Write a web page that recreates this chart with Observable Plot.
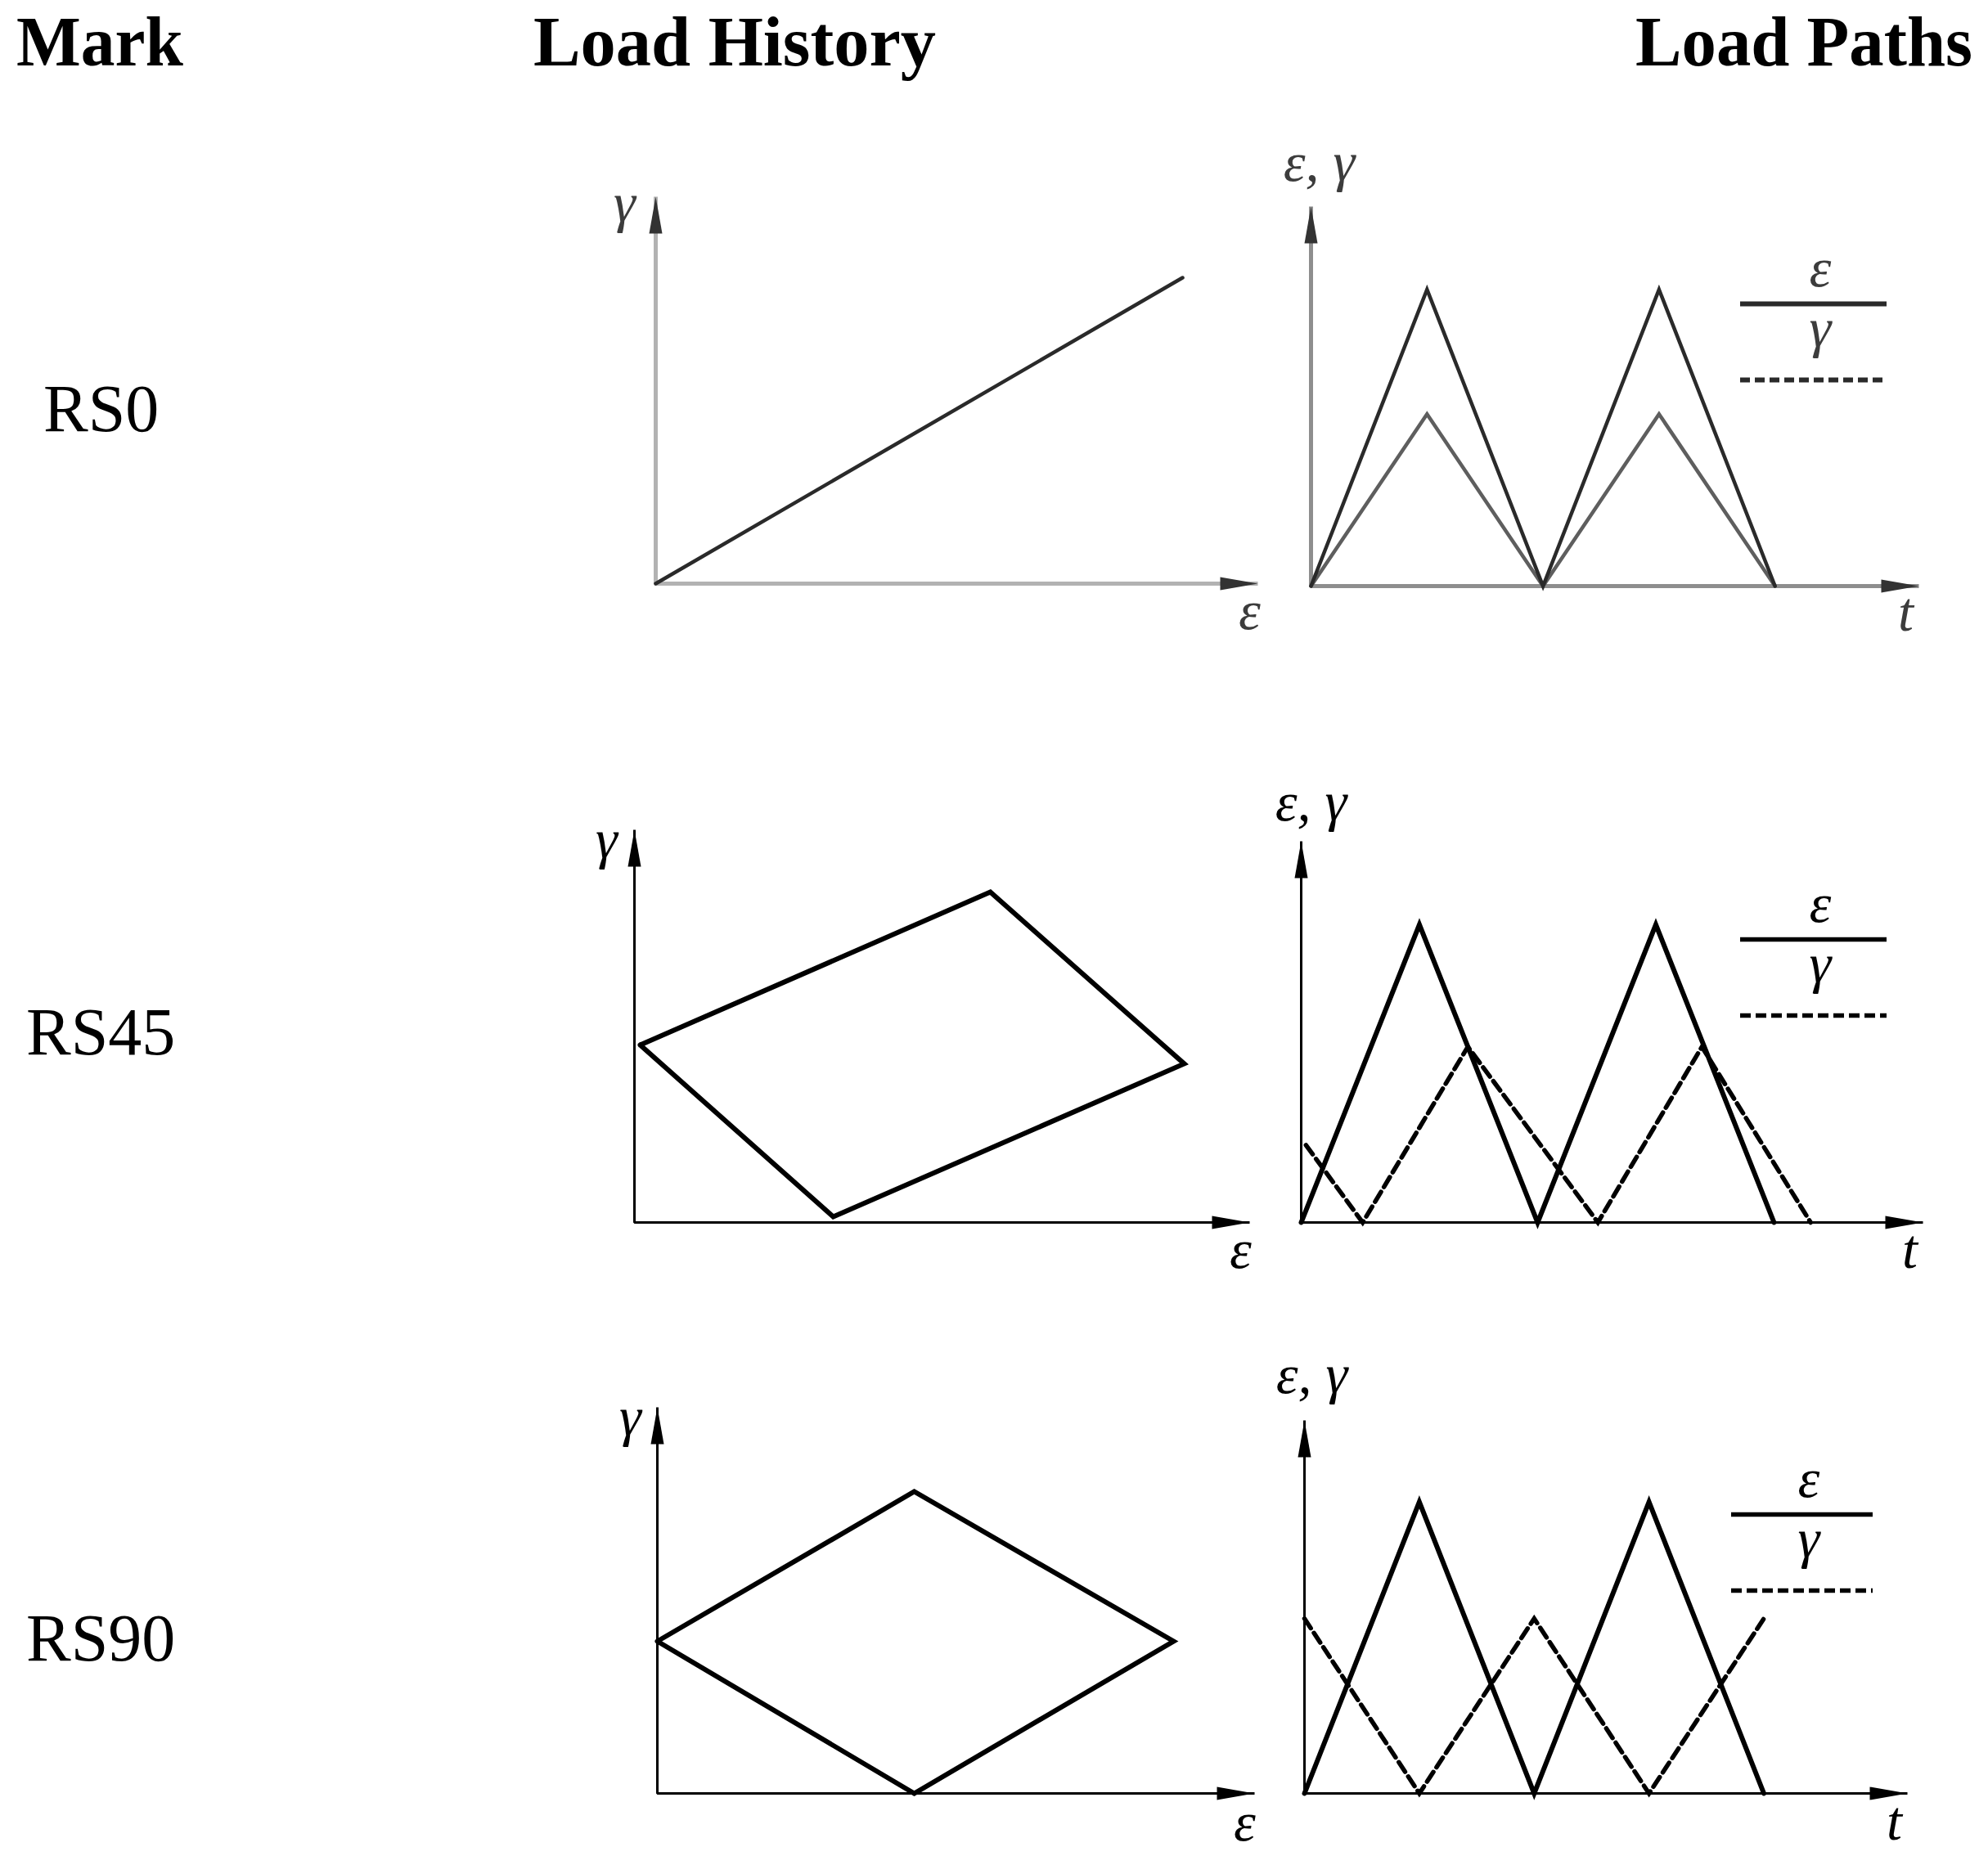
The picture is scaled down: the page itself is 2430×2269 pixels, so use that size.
<!DOCTYPE html>
<html>
<head>
<meta charset="utf-8">
<script src="https://cdn.jsdelivr.net/npm/d3@7"></script>
<script src="https://cdn.jsdelivr.net/npm/@observablehq/plot@0.6"></script>
<style>
  html, body { margin: 0; padding: 0; background: #fff; }
  #page { position: relative; width: 2430px; height: 2269px; overflow: hidden; background: #fff; }
  #page svg { position: absolute; }
</style>
</head>
<body>
<div id="page"></div>
<script>
// ---------------- data ----------------
const headers = ["Mark", "Load History", "Load Paths"];
const rowMarks = ["RS0", "RS45", "RS90"];
const histAxisLabels = ["ε", "γ"];          // x, y
const pathAxisLabels = ["t", "ε, γ"];       // x, y
const legendLabels = ["ε", "γ"];

// Load history: strain path in the ε–γ plane (arbitrary units)
const rs0HistEps  = [0, 6.44];
const rs0HistGam  = [0, 3.74];
const rs45HistEps = [0.07, 4.35, 6.72, 2.43, 0.07];
const rs45HistGam = [2.17, 4.04, 1.94, 0.07, 2.17];
const rs90HistEps = [0, 3.14, 6.31, 3.14, 0];
const rs90HistGam = [1.86, 3.69, 1.86, 0, 1.86];
const histAxisEpsMax = [7.36, 7.52, 7.30];
const histAxisGamMax = [4.73, 4.80, 4.72];

// Load paths: ε(t) and γ(t)
const rs0EpsT  = [0, 1, 2, 3, 4];
const rs0Eps   = [0, 1, 0, 1, 0];
const rs0GamT  = [0, 1, 2, 3, 4];
const rs0Gam   = [0, 0.58, 0, 0.58, 0];
const rs45EpsT = [0, 1, 2, 3, 4];
const rs45Eps  = [0, 1, 0, 1, 0];
const rs45GamT = [0.04, 0.52, 1.41, 2.51, 3.39, 4.31];
const rs45Gam  = [0.26, 0, 0.59, 0, 0.59, 0];
const rs90EpsT = [0, 1, 2, 3, 4];
const rs90Eps  = [0, 1, 0, 1, 0];
const rs90GamT = [0, 1, 2, 3, 4];
const rs90Gam  = [0.6, 0, 0.6, 0, 0.6];
const pathAxisTMax = [5.24, 5.26, 5.25];
const pathAxisYMax = [1.28, 1.28, 1.28];

// ---------------- layout (page pixels) ----------------
const histLayout = [
  {ox: 801, oy: 713,  tx: 1537, ty: 240},
  {ox: 775, oy: 1494, tx: 1527, ty: 1014},
  {ox: 803, oy: 2192, tx: 1533, ty: 1720}
];
const pathLayout = [
  {ox: 1602, oy: 716,  tx: 2345, ty: 252},
  {ox: 1590, oy: 1494, tx: 2350, ty: 1028},
  {ox: 1594, oy: 2192, tx: 2331, ty: 1736}
];
const legendLayout = [
  {x1: 2127, x2: 2306, y: 371},
  {x1: 2127, x2: 2306, y: 1148},
  {x1: 2116, x2: 2289, y: 1851}
];
const histLabelOffsets = [ {gdx: -38, gdy: 30, edx: -10, edy: 55}, {gdx: -34, gdy: 34, edx: -11, edy: 55}, {gdx: -33, gdy: 34, edx: -12, edy: 57} ];
const pathLabelOffsets = [ {ydx: 10, ydy: -32, tdx: -16, tdy: 54}, {ydx: 12, ydy: -26, tdx: -16, tdy: 55}, {ydx: 9, ydy: -34, tdx: -16, tdy: 56} ];

const styles = [
  {histAxis: "#b2b2b2", pathAxis: "#8e8e8e", axisW: 5, head: "#333", line: "#2a2a2a", lineW: 4.5, gam: "#5e5e5e", gamW: 4.5, gamDash: null, text: "#3c3c3c", legW: 6, legDash: "12,6"},
  {histAxis: "#000", pathAxis: "#000", axisW: 3, head: "#000", line: "#000", lineW: 6, gam: "#000", gamW: 5.5, gamDash: "14,7", text: "#000", legW: 5.5, legDash: "13,6"},
  {histAxis: "#000", pathAxis: "#000", axisW: 3, head: "#000", line: "#000", lineW: 6, gam: "#000", gamW: 5.5, gamDash: "14,7", text: "#000", legW: 5.5, legDash: "13,6"}
];

const FONT = "Liberation Serif, Times New Roman, serif";
const MATH = 68;

// filled arrowheads (tip at the symbol origin)
const arrowRight = {draw(ctx) { ctx.moveTo(0, 0); ctx.lineTo(-46, -8); ctx.lineTo(-46, 8); ctx.closePath(); }};
const arrowUp    = {draw(ctx) { ctx.moveTo(0, 0); ctx.lineTo(-8, 45); ctx.lineTo(8, 45); ctx.closePath(); }};

const page = document.getElementById("page");

// header + row labels
const hdr = d3.create("svg").attr("width", 2430).attr("height", 2269).style("left", "0px").style("top", "0px");
const hx = [{x: 20, anchor: "start", len: 204}, {x: 652, anchor: "start", len: 492}, {x: 2411, anchor: "end", len: 412}];
headers.forEach((h, i) => hdr.append("text").attr("x", hx[i].x).attr("y", 80)
  .attr("text-anchor", hx[i].anchor).attr("font-family", FONT).attr("font-weight", "bold")
  .attr("font-size", 87).attr("textLength", hx[i].len).attr("lengthAdjust", "spacingAndGlyphs")
  .attr("fill", "#000").text(h));
const rowPos = [{x: 53, y: 527}, {x: 32, y: 1289}, {x: 32, y: 2030}];
rowMarks.forEach((m, i) => hdr.append("text").attr("x", rowPos[i].x).attr("y", rowPos[i].y)
  .attr("font-family", FONT).attr("font-size", 82).attr("fill", "#000").text(m));
page.appendChild(hdr.node());

function mount(L, xMax, yMax, marks) {
  const mL = 90, mR = 40, mT = 90, mB = 90;
  const W = (L.tx - L.ox) + mL + mR;
  const H = (L.oy - L.ty) + mT + mB;
  const svg = Plot.plot({
    width: W, height: H,
    marginLeft: mL, marginRight: mR, marginTop: mT, marginBottom: mB,
    x: {domain: [0, xMax], axis: null},
    y: {domain: [0, yMax], axis: null},
    style: {background: "transparent", overflow: "visible"},
    marks
  });
  svg.style.position = "absolute";
  svg.style.left = (L.ox - mL) + "px";
  svg.style.top = (L.ty - mT) + "px";
  page.appendChild(svg);
}

function axisMarks(xMax, yMax, color, w, head) {
  const frame = [[0, yMax], [0, 0], [xMax, 0]];
  return [
    Plot.line(frame, {x: d => d[0], y: d => d[1], stroke: color, strokeWidth: w, strokeLinejoin: "miter", strokeLinecap: "butt"}),
    Plot.dot([[xMax, 0]], {x: d => d[0], y: d => d[1], r: 1, symbol: arrowRight, fill: head, stroke: "none"}),
    Plot.dot([[0, yMax]], {x: d => d[0], y: d => d[1], r: 1, symbol: arrowUp, fill: head, stroke: "none"})
  ];
}

function label(text, x, y, dx, dy, fill) {
  return Plot.text([text], {x: () => x, y: () => y, text: d => d, dx, dy,
    fontSize: MATH, fontStyle: "italic", fontFamily: FONT, fill,
    textAnchor: "middle", lineAnchor: "bottom"});
}

const zipPts = (xs, ys) => xs.map((x, i) => ({x, y: ys[i]}));

// ---------------- load history panels ----------------
const histData = [
  [rs0HistEps, rs0HistGam],
  [rs45HistEps, rs45HistGam],
  [rs90HistEps, rs90HistGam]
];
histData.forEach(([eps, gam], i) => {
  const st = styles[i], xMax = histAxisEpsMax[i], yMax = histAxisGamMax[i], o = histLabelOffsets[i];
  mount(histLayout[i], xMax, yMax, [
    ...axisMarks(xMax, yMax, st.histAxis, st.axisW, st.head),
    Plot.line(zipPts(eps, gam), {x: "x", y: "y", stroke: st.line, strokeWidth: st.lineW, strokeLinejoin: "miter", strokeMiterlimit: 6}),
    label(histAxisLabels[1], 0, yMax, o.gdx, o.gdy, st.text),
    label(histAxisLabels[0], xMax, 0, o.edx, o.edy, st.text)
  ]);
});

// ---------------- load path panels ----------------
const pathData = [
  [rs0EpsT, rs0Eps, rs0GamT, rs0Gam],
  [rs45EpsT, rs45Eps, rs45GamT, rs45Gam],
  [rs90EpsT, rs90Eps, rs90GamT, rs90Gam]
];
pathData.forEach(([et, ev, gt, gv], i) => {
  const st = styles[i], L = pathLayout[i], xMax = pathAxisTMax[i], yMax = pathAxisYMax[i], o = pathLabelOffsets[i];
  const sx = (L.tx - L.ox) / xMax, sy = (L.oy - L.ty) / yMax;
  const toX = p => (p - L.ox) / sx, toY = p => (L.oy - p) / sy;
  const lg = legendLayout[i];
  const mid = (lg.x1 + lg.x2) / 2 + 8;
  mount(L, xMax, yMax, [
    ...axisMarks(xMax, yMax, st.pathAxis, st.axisW, st.head),
    Plot.line(zipPts(gt, gv), {x: "x", y: "y", stroke: st.gam, strokeWidth: st.gamW, strokeDasharray: st.gamDash, strokeLinejoin: "miter", strokeMiterlimit: 6}),
    Plot.line(zipPts(et, ev), {x: "x", y: "y", stroke: st.line, strokeWidth: st.lineW, strokeLinejoin: "miter", strokeMiterlimit: 6}),
    label(pathAxisLabels[1], 0, yMax, o.ydx, o.ydy, st.text),
    label(pathAxisLabels[0], xMax, 0, o.tdx, o.tdy, st.text),
    // legend
    Plot.ruleY([toY(lg.y)], {x1: toX(lg.x1), x2: toX(lg.x2), stroke: st.line, strokeWidth: st.legW}),
    Plot.ruleY([toY(lg.y + 93)], {x1: toX(lg.x1), x2: toX(lg.x2), stroke: st.line, strokeWidth: st.legW, strokeDasharray: st.legDash}),
    label(legendLabels[0], toX(mid), toY(lg.y - 22), 0, 0, st.text),
    label(legendLabels[1], toX(mid), toY(lg.y + 52), 0, 0, st.text)
  ]);
});
</script>
</body>
</html>
